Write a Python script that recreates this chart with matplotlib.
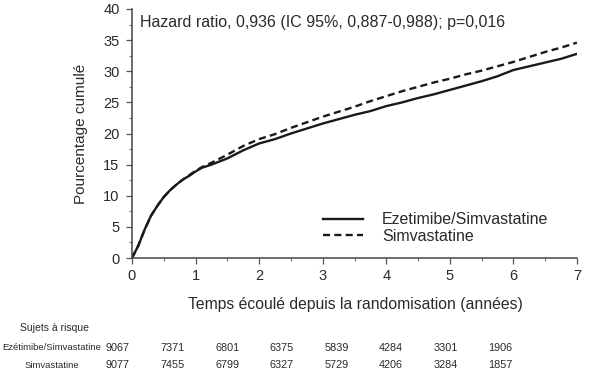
import matplotlib
matplotlib.use("Agg")
import matplotlib.pyplot as plt
from matplotlib.ticker import MultipleLocator

plt.rcParams['font.family'] = ['Liberation Sans', 'DejaVu Sans']

# --- Data ---
t_eze = [0, 0.05, 0.1, 0.2, 0.3, 0.4, 0.5, 0.6, 0.7, 0.8, 0.9, 1.0, 1.1, 1.25, 1.5, 1.75,
         2.0, 2.25, 2.5, 2.75, 3.0, 3.25, 3.5, 3.75, 4.0, 4.25, 4.5, 4.75, 5.0,
         5.25, 5.5, 5.75, 6.0, 6.25, 6.5, 6.75, 7.0]
y_eze = [0, 1.0, 2.0, 4.6, 6.8, 8.4, 9.8, 10.9, 11.8, 12.6, 13.2, 13.9, 14.5, 15.0, 16.0, 17.3,
         18.4, 19.1, 20.0, 20.8, 21.6, 22.3, 23.0, 23.6, 24.4, 25.0, 25.7, 26.3, 27.0,
         27.7, 28.4, 29.2, 30.2, 30.8, 31.4, 32.0, 32.8]
t_sim = [0, 0.05, 0.1, 0.2, 0.3, 0.4, 0.5, 0.6, 0.7, 0.8, 0.9, 1.0, 1.1, 1.25, 1.5, 1.75,
         2.0, 2.25, 2.5, 2.75, 3.0, 3.25, 3.5, 3.75, 4.0, 4.25, 4.5, 4.75, 5.0,
         5.25, 5.5, 5.75, 6.0, 6.25, 6.5, 6.75, 7.0]
y_sim = [0, 1.0, 2.0, 4.6, 6.8, 8.4, 9.8, 10.9, 11.8, 12.6, 13.3, 14.0, 14.6, 15.3, 16.6, 18.0,
         19.1, 19.9, 20.9, 21.8, 22.7, 23.5, 24.3, 25.2, 26.0, 26.8, 27.5, 28.2, 28.8,
         29.5, 30.1, 30.8, 31.5, 32.3, 33.1, 33.8, 34.6]

series_labels = ["Ezetimibe/Simvastatine", "Simvastatine"]
risk_labels = ["Ezétimibe/Simvastatine", "Simvastatine"]
risk_eze = [9067, 7371, 6801, 6375, 5839, 4284, 3301, 1906]
risk_sim = [9077, 7455, 6799, 6327, 5729, 4206, 3284, 1857]

title_text = "Hazard ratio, 0,936 (IC 95%, 0,887-0,988); p=0,016"
xlabel = "Temps écoulé depuis la randomisation (années)"
ylabel = "Pourcentage cumulé"
risk_title = "Sujets à risque"

# --- Figure ---
W, H = 605, 380
fig = plt.figure(figsize=(W / 100, H / 100), dpi=100)
ax = fig.add_axes([132 / W, 1 - 258 / H, 445 / W, 249 / H])

lc = '#1a1a1a'
tc = '#2a2a2a'
ax.plot(t_eze, y_eze, color=lc, lw=1.7, ls='-', label=series_labels[0])
ax.plot(t_sim, y_sim, color=lc, lw=1.7, ls=(0, (3.0, 1.8)), label=series_labels[1])

ax.set_xlim(0, 7)
ax.set_ylim(0, 40)
ax.xaxis.set_major_locator(MultipleLocator(1))
ax.xaxis.set_minor_locator(MultipleLocator(0.5))
ax.yaxis.set_major_locator(MultipleLocator(5))
ax.yaxis.set_minor_locator(MultipleLocator(2.5))

for s in ['top', 'right']:
    ax.spines[s].set_visible(False)
for s in ['left', 'bottom']:
    ax.spines[s].set_color('#444444')
    ax.spines[s].set_linewidth(1.1)

ax.tick_params(which='major', direction='out', length=4, width=0.9, color='#555555',
               labelsize=10.5, labelcolor=tc, pad=4)
ax.tick_params(which='minor', direction='out', length=2.5, width=0.8, color='#777777')
ax.tick_params(axis='y', which='major', pad=5)

ax.set_xlabel(xlabel, fontsize=11.3, color=tc)
ax.xaxis.set_label_coords(0.501, -0.157)
ax.set_ylabel(ylabel, fontsize=11, color=tc)
ax.yaxis.set_label_coords(-0.099, 0.5)

ax.text(0.018, 0.944, title_text, transform=ax.transAxes, fontsize=11.5, color=tc,
        ha='left', va='center')

leg = ax.legend(loc='center left', bbox_to_anchor=(0.429, 0.12), frameon=False,
                fontsize=11.5, handlelength=2.5, handletextpad=1.2, labelspacing=0.1,
                borderpad=0, borderaxespad=0)
for txt in leg.get_texts():
    txt.set_color(tc)

# --- Risk table ---
fig.text(54 / W, 1 - 328 / H, risk_title, fontsize=7.5, color=tc, ha='center', va='center')
row_y = [348, 365]
for lab, vals, yy in zip(risk_labels, [risk_eze, risk_sim], row_y):
    fig.text(52 / W, 1 - yy / H, lab, fontsize=6.8, color=tc, ha='center', va='center')
    for i, v in enumerate(vals):
        fig.text((118 + 54.6 * i) / W, 1 - yy / H, str(v), fontsize=7.8, color=tc,
                 ha='center', va='center')

fig.savefig("out.png", dpi=100)
